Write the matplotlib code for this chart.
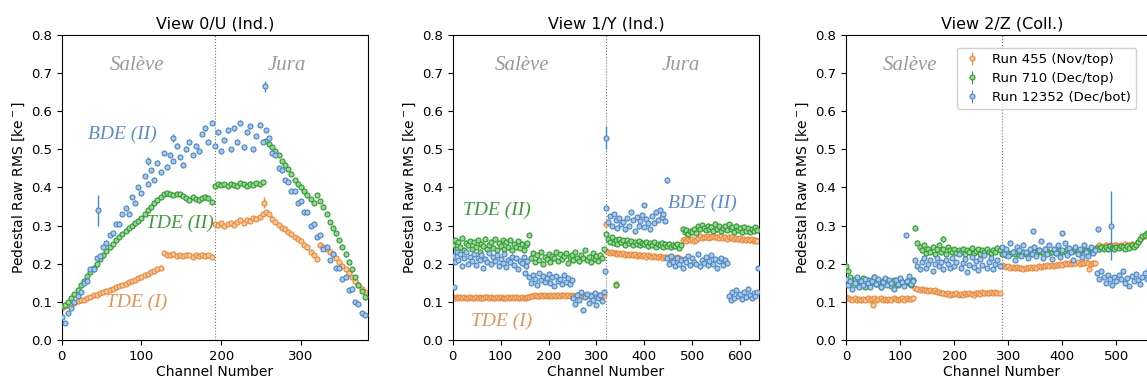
import numpy as np
import matplotlib
matplotlib.use("Agg")
import matplotlib.pyplot as plt

# ---------------- data ----------------
titles = ["View 0/U (Ind.)", "View 1/Y (Ind.)", "View 2/Z (Coll.)"]
run_labels = ["Run 455 (Nov/top)", "Run 710 (Dec/top)", "Run 12352 (Dec/bot)"]
n_channels = [384, 640, 576]
split_channel = [192, 320, 288]

# View 0/U : every 4th channel
v0_ch = list(range(0, 384, 4))
v0_orange = [0.083, 0.088, 0.092, 0.094, 0.098, 0.101, 0.104, 0.106, 0.110, 0.113, 0.117, 0.119,
             0.122, 0.126, 0.129, 0.132, 0.135, 0.138, 0.142, 0.144, 0.148, 0.152, 0.155, 0.158,
             0.163, 0.165, 0.170, 0.173, 0.178, 0.182, 0.186, 0.190,
             0.228, 0.224, 0.222, 0.225, 0.221, 0.223, 0.220, 0.224, 0.222, 0.219, 0.223, 0.221,
             0.224, 0.220, 0.222, 0.219,
             0.305, 0.302, 0.306, 0.298, 0.304, 0.308, 0.302, 0.310, 0.315, 0.308, 0.316, 0.312,
             0.320, 0.318, 0.322, 0.330,
             0.335, 0.330, 0.318, 0.310, 0.302, 0.295, 0.290, 0.283, 0.277, 0.270, 0.265, 0.260,
             0.250, 0.243, 0.232, 0.222, 0.212,
             0.250, 0.245, 0.240, 0.232, 0.225, 0.215, 0.205, 0.195, 0.185, 0.175, 0.165, 0.155,
             0.145, 0.135, 0.125]
v0_green = [0.088, 0.092, 0.100, 0.110, 0.120, 0.132, 0.143, 0.155, 0.167, 0.178, 0.190, 0.200,
            0.212, 0.222, 0.233, 0.243, 0.252, 0.262, 0.270, 0.278, 0.287, 0.293, 0.300, 0.306,
            0.312, 0.320, 0.330, 0.340, 0.350, 0.360, 0.368, 0.375,
            0.382, 0.385, 0.383, 0.380, 0.384, 0.382, 0.378, 0.372, 0.368, 0.374, 0.370, 0.366,
            0.372, 0.376, 0.372, 0.362,
            0.405, 0.410, 0.406, 0.408, 0.404, 0.410, 0.407, 0.405, 0.412, 0.408, 0.404, 0.410,
            0.406, 0.412, 0.408, 0.414,
            0.522, 0.515, 0.505, 0.495, 0.485, 0.470, 0.460, 0.448, 0.435, 0.420, 0.410, 0.400,
            0.390, 0.380, 0.370, 0.360,
            0.380, 0.365, 0.350, 0.330, 0.310, 0.295, 0.280, 0.262, 0.245, 0.225, 0.205, 0.185,
            0.165, 0.145, 0.128, 0.112]
v0_blue = [0.060, 0.045, 0.070, 0.085, 0.100, 0.115, 0.125, 0.150, 0.155, 0.185, 0.185, 0.215,
           0.220, 0.245, 0.255, 0.275, 0.280, 0.305, 0.305, 0.330,
           0.345, 0.330, 0.375, 0.360, 0.400, 0.385, 0.430, 0.410, 0.445, 0.420, 0.465, 0.440,
           0.490, 0.455, 0.485, 0.470, 0.510, 0.480, 0.460, 0.500, 0.520, 0.485, 0.510, 0.495,
           0.540, 0.555, 0.520, 0.570,
           0.510, 0.545, 0.495, 0.525, 0.550, 0.500, 0.555, 0.520, 0.570, 0.505, 0.545, 0.560,
           0.500, 0.535, 0.565, 0.520, 0.550,
           0.530, 0.490, 0.485, 0.450, 0.445, 0.420, 0.415, 0.390, 0.390, 0.360, 0.365, 0.335,
           0.335, 0.300, 0.305, 0.270, 0.275, 0.240, 0.245, 0.210, 0.225, 0.190, 0.190, 0.160,
           0.165, 0.130, 0.135, 0.100, 0.095, 0.070, 0.065]

# View 1/Y : every 4th channel
v1_ch = list(range(0, 640, 4))
v1_orange = [0.113, 0.111, 0.112, 0.110, 0.112, 0.111, 0.113, 0.110, 0.111, 0.112,
             0.110, 0.111, 0.113, 0.110, 0.112, 0.111, 0.110, 0.112, 0.113, 0.111,
             0.112, 0.110, 0.111, 0.113, 0.111, 0.112, 0.110, 0.109, 0.111, 0.112,
             0.110, 0.112, 0.111, 0.113, 0.110, 0.111, 0.112, 0.110, 0.111, 0.112,
             0.114, 0.116, 0.115, 0.117, 0.115, 0.116, 0.118, 0.115, 0.117, 0.116,
             0.115, 0.117, 0.116, 0.118, 0.115, 0.117, 0.116, 0.119, 0.117, 0.115,
             0.118, 0.116, 0.117,
             0.116, 0.115, 0.117, 0.116, 0.118, 0.116, 0.117, 0.118, 0.116, 0.117,
             0.115, 0.118, 0.116, 0.117, 0.118, 0.116, 0.117,
             0.234, 0.230, 0.228, 0.231, 0.227, 0.229, 0.226, 0.228, 0.225, 0.227,
             0.224, 0.226, 0.223, 0.225, 0.222, 0.226, 0.221, 0.224, 0.222, 0.220,
             0.223, 0.219, 0.222, 0.220, 0.218, 0.221, 0.219, 0.217, 0.220, 0.218,
             0.216, 0.219, 0.217, 0.215, 0.218, 0.216, 0.214, 0.217, 0.215, 0.213,
             0.262, 0.266, 0.259, 0.264, 0.261, 0.265, 0.260, 0.263, 0.268, 0.272,
             0.267, 0.271, 0.269, 0.273, 0.268, 0.270, 0.274, 0.269, 0.271, 0.267,
             0.272, 0.268, 0.270, 0.266, 0.271, 0.267, 0.269, 0.265, 0.268, 0.264,
             0.267, 0.263, 0.266, 0.262, 0.265, 0.261, 0.264, 0.260, 0.263, 0.259]
v1_green = [0.250, 0.262, 0.238, 0.258, 0.245, 0.268, 0.235, 0.255, 0.248, 0.260,
            0.240, 0.256, 0.244, 0.262, 0.232, 0.252, 0.246, 0.266, 0.238, 0.250,
            0.258, 0.242, 0.264, 0.236, 0.254, 0.247, 0.261, 0.239, 0.257, 0.243,
            0.263, 0.235, 0.251, 0.245, 0.259, 0.241, 0.253, 0.237, 0.249, 0.255,
            0.275, 0.215, 0.228, 0.205, 0.222, 0.210, 0.232, 0.200, 0.218, 0.212,
            0.226, 0.205, 0.220, 0.214, 0.230, 0.208, 0.225, 0.212, 0.220, 0.228,
            0.203, 0.217, 0.224, 0.209, 0.231, 0.214, 0.206, 0.222, 0.216, 0.235,
            0.210, 0.219, 0.204, 0.227, 0.213, 0.221, 0.207, 0.224, 0.215, 0.238,
            0.278, 0.266, 0.258, 0.270, 0.255, 0.263, 0.252, 0.265, 0.256, 0.261,
            0.250, 0.262, 0.254, 0.259, 0.249, 0.257, 0.252, 0.260, 0.248, 0.255,
            0.251, 0.258, 0.246, 0.254, 0.250, 0.256, 0.245, 0.252, 0.248, 0.255,
            0.244, 0.251, 0.247, 0.253, 0.243, 0.250, 0.246, 0.252, 0.242, 0.249,
            0.292, 0.282, 0.288, 0.279, 0.286, 0.284, 0.290, 0.281, 0.298, 0.290,
            0.302, 0.295, 0.288, 0.300, 0.292, 0.297, 0.286, 0.305, 0.290, 0.298,
            0.285, 0.294, 0.299, 0.288, 0.303, 0.291, 0.296, 0.284, 0.300, 0.289,
            0.295, 0.282, 0.297, 0.287, 0.293, 0.283, 0.291, 0.286, 0.296, 0.288]
v1_blue = [0.220, 0.205, 0.230, 0.210, 0.225, 0.195, 0.215, 0.232, 0.200, 0.218,
           0.207, 0.225, 0.198, 0.215, 0.210, 0.222, 0.190, 0.212, 0.205, 0.228,
           0.200, 0.217, 0.208, 0.223, 0.195, 0.213, 0.203, 0.226, 0.192, 0.211,
           0.204, 0.219, 0.196, 0.214, 0.186, 0.208, 0.201, 0.218, 0.193, 0.206,
           0.165, 0.150, 0.170, 0.160, 0.145, 0.175, 0.158, 0.168, 0.152, 0.162,
           0.172, 0.150, 0.164, 0.142, 0.168, 0.155, 0.160, 0.148, 0.171, 0.153,
           0.163, 0.147, 0.158,
           0.110, 0.095, 0.118, 0.105, 0.125, 0.080, 0.112, 0.120, 0.098, 0.115,
           0.104, 0.122, 0.092, 0.110, 0.118, 0.102, 0.125,
           0.345, 0.310, 0.325, 0.300, 0.330, 0.315, 0.295, 0.320, 0.305, 0.310,
           0.290, 0.320, 0.300, 0.335, 0.315, 0.285, 0.322, 0.298, 0.312, 0.328,
           0.296, 0.318, 0.306, 0.290, 0.325, 0.308, 0.335, 0.315, 0.340, 0.322,
           0.330, 0.312,
           0.215, 0.200, 0.220, 0.205, 0.195, 0.215, 0.200, 0.210, 0.190, 0.212,
           0.205, 0.220, 0.198, 0.215, 0.205, 0.200, 0.225, 0.193, 0.210, 0.202,
           0.218, 0.196, 0.208, 0.222, 0.200, 0.212, 0.188, 0.206, 0.215, 0.198,
           0.210, 0.203,
           0.115, 0.105, 0.125, 0.110, 0.130, 0.115, 0.120, 0.108, 0.125, 0.112,
           0.135, 0.118, 0.110, 0.122, 0.115, 0.126]

# View 2/Z : every 4th channel
v2_ch = list(range(0, 576, 4))
v2_orange = [0.112, 0.110, 0.108, 0.106, 0.109, 0.105, 0.107, 0.104, 0.108, 0.106,
             0.109, 0.105, 0.107, 0.110, 0.106, 0.108, 0.109, 0.105, 0.107, 0.104,
             0.108, 0.106, 0.109, 0.107, 0.105, 0.108, 0.110, 0.106, 0.109, 0.107,
             0.108, 0.110,
             0.136, 0.133, 0.131, 0.134, 0.130, 0.132, 0.129, 0.131, 0.128, 0.130,
             0.127, 0.126, 0.124, 0.122, 0.121, 0.123, 0.119, 0.121, 0.120, 0.122,
             0.118, 0.121, 0.119, 0.122, 0.120, 0.123, 0.121, 0.119, 0.122, 0.124,
             0.121, 0.125, 0.122, 0.124, 0.123, 0.126, 0.122, 0.125, 0.124, 0.123,
             0.196, 0.193, 0.191, 0.194, 0.190, 0.192, 0.189, 0.191, 0.188, 0.190,
             0.187, 0.190, 0.188, 0.191, 0.189, 0.192, 0.190, 0.193, 0.191, 0.195,
             0.193, 0.196, 0.194, 0.197, 0.195, 0.198, 0.196, 0.200, 0.198, 0.201,
             0.199, 0.202, 0.200, 0.203, 0.201, 0.204, 0.200, 0.203, 0.201, 0.204,
             0.202, 0.200, 0.203, 0.201,
             0.245, 0.248, 0.244, 0.247, 0.250, 0.246, 0.249, 0.245, 0.248, 0.250,
             0.246, 0.249, 0.247, 0.251, 0.248, 0.250, 0.252, 0.249, 0.253, 0.258,
             0.264, 0.270, 0.274, 0.277, 0.278, 0.280, 0.279, 0.281]
v2_green = [0.195, 0.180, 0.165, 0.150, 0.160, 0.145, 0.155, 0.150, 0.162, 0.140,
            0.158, 0.148, 0.155, 0.165, 0.146, 0.152, 0.138, 0.155, 0.160, 0.148,
            0.153, 0.142, 0.157, 0.150, 0.145, 0.160, 0.152, 0.148, 0.156, 0.150,
            0.145, 0.158,
            0.295, 0.255, 0.245, 0.235, 0.250, 0.228, 0.240, 0.232, 0.245, 0.225,
            0.238, 0.250, 0.230, 0.240, 0.226, 0.244, 0.235, 0.230, 0.238, 0.228,
            0.235, 0.232, 0.240, 0.226, 0.236, 0.230, 0.242, 0.228, 0.234, 0.238,
            0.225, 0.236, 0.230, 0.240, 0.232, 0.228, 0.237, 0.231, 0.242, 0.235,
            0.225, 0.230, 0.222, 0.228, 0.225, 0.232, 0.226, 0.230, 0.224, 0.228,
            0.232, 0.226, 0.230, 0.234, 0.228, 0.232, 0.226, 0.235, 0.230, 0.232,
            0.236, 0.234, 0.228, 0.231, 0.235, 0.229, 0.233, 0.237, 0.231, 0.234,
            0.238, 0.232, 0.236, 0.233, 0.239, 0.235, 0.232, 0.237, 0.240, 0.236,
            0.234, 0.239, 0.236, 0.238,
            0.242, 0.238, 0.245, 0.240, 0.244, 0.238, 0.246, 0.242, 0.240, 0.245,
            0.241, 0.247, 0.243, 0.239, 0.246, 0.242, 0.248, 0.244, 0.250, 0.256,
            0.264, 0.272, 0.276, 0.280, 0.284, 0.282, 0.286, 0.283]
v2_blue = [0.160, 0.145, 0.155, 0.135, 0.150, 0.165, 0.140, 0.155, 0.145, 0.160,
           0.150, 0.140, 0.155, 0.165, 0.148, 0.160, 0.138, 0.152, 0.162, 0.144,
           0.157, 0.149, 0.135, 0.158, 0.146, 0.163, 0.151, 0.142, 0.156, 0.168,
           0.148, 0.155,
           0.210, 0.195, 0.185, 0.205, 0.215, 0.190, 0.200, 0.210, 0.180, 0.200,
           0.215, 0.195, 0.205, 0.185, 0.210, 0.200, 0.190, 0.215, 0.195, 0.205,
           0.225, 0.188, 0.202, 0.212, 0.178, 0.198, 0.218, 0.192, 0.206, 0.184,
           0.212, 0.196, 0.222, 0.190, 0.204, 0.215, 0.186, 0.200, 0.210, 0.194,
           0.245, 0.225, 0.240, 0.220, 0.255, 0.230, 0.210, 0.245, 0.235, 0.220,
           0.250, 0.230, 0.215, 0.240, 0.225, 0.245, 0.220, 0.235, 0.260, 0.215,
           0.240, 0.225, 0.250, 0.212, 0.238, 0.228, 0.248, 0.218, 0.236, 0.255,
           0.222, 0.242, 0.230, 0.210, 0.245, 0.226, 0.238, 0.218, 0.250, 0.232,
           0.220, 0.244, 0.228, 0.236,
           0.175, 0.160, 0.180, 0.165, 0.150, 0.170, 0.160, 0.145, 0.165, 0.155,
           0.170, 0.160, 0.180, 0.150, 0.162, 0.142, 0.168, 0.155, 0.172, 0.158,
           0.148, 0.165, 0.175, 0.160, 0.185, 0.170, 0.195, 0.205]

# isolated points with larger error bars: (channel, value, error)
v0_orange_out = ([254], [0.36], [0.015])
v0_green_out = ([], [], [])
v0_blue_out = ([46, 255, 108, 140], [0.34, 0.665, 0.47, 0.53], [0.04, 0.015, 0.01, 0.01])
v1_orange_out = ([320, 340], [0.305, 0.148], [0.008, 0.006])
v1_green_out = ([341], [0.145], [0.006])
v1_blue_out = ([320, 447, 2, 318, 400, 638, 150], [0.53, 0.42, 0.14, 0.18, 0.355, 0.19, 0.175],
               [0.03, 0.008, 0.005, 0.006, 0.005, 0.005, 0.005])
v2_orange_out = ([50, 450], [0.092, 0.185], [0.005, 0.005])
v2_green_out = ([180], [0.265], [0.008])
v2_blue_out = ([110, 490, 345, 465, 400], [0.275, 0.30, 0.285, 0.29, 0.28],
               [0.006, 0.09, 0.006, 0.006, 0.006])

annotations = [
    [("Salève", 94, 0.72, "gray"), ("Jura", 282, 0.72, "gray"),
     ("BDE (II)", 76, 0.54, "blue"), ("TDE (II)", 148, 0.307, "green"), ("TDE (I)", 94, 0.10, "orange")],
    [("Salève", 145, 0.72, "gray"), ("Jura", 477, 0.72, "gray"),
     ("TDE (II)", 92, 0.339, "green"), ("TDE (I)", 102, 0.05, "orange"), ("BDE (II)", 521, 0.359, "blue")],
    [("Salève", 118, 0.72, "gray")],
]

# ---------------- style ----------------
col = {"orange": "#e8893a", "green": "#2e9a2e", "blue": "#4a86c2", "gray": "#9a9a9a"}
light = {"orange": "#f5c89e", "green": "#9ad49a", "blue": "#a9c8e8"}
txtcol = {"orange": "#e09458", "green": "#3e9a3e", "blue": "#5b8cc4", "gray": "#9a9a9a"}

fig = plt.figure(figsize=(11.47, 3.85), dpi=100)
W, H = 1147.0, 385.0
rects = [
    [61.7 / W, 45 / H, 306.3 / W, 305 / H],
    [452.7 / W, 45 / H, 306.6 / W, 305 / H],
    [846.0 / W, 45 / H, 311.6 / W, 305 / H],
]
chs = [v0_ch, v1_ch, v2_ch]
series = [
    [v0_orange, v0_green, v0_blue],
    [v1_orange, v1_green, v1_blue],
    [v2_orange, v2_green, v2_blue],
]
outs = [
    [v0_orange_out, v0_green_out, v0_blue_out],
    [v1_orange_out, v1_green_out, v1_blue_out],
    [v2_orange_out, v2_green_out, v2_blue_out],
]
keys = ["orange", "green", "blue"]
serif = ["Liberation Serif", "DejaVu Serif"]

for i in range(3):
    ax = fig.add_axes(rects[i])
    handles = []
    for k, key in enumerate(keys):
        y = series[i][k]
        h = ax.errorbar(chs[i], y, yerr=0.006, fmt="o", ms=3.6, color=col[key],
                        mfc=light[key], mec=col[key], mew=0.8, elinewidth=0.8,
                        capsize=0, label=run_labels[k], zorder=2 + k)
        handles.append(h)
        oc, ov, oe = outs[i][k]
        if len(oc):
            ax.errorbar(oc, ov, yerr=oe, fmt="o", ms=3.6, color=col[key],
                        mfc=light[key], mec=col[key], mew=0.8, elinewidth=1.0,
                        capsize=0, zorder=2 + k)
    ax.axvline(split_channel[i], color="#777777", ls=":", lw=0.8, zorder=1)
    ax.set_xlim(0, n_channels[i])
    ax.set_ylim(0, 0.8)
    ax.set_yticks(np.arange(0, 0.81, 0.1))
    ax.set_yticklabels([f"{t:.1f}" for t in np.arange(0, 0.81, 0.1)])
    ax.set_xticks(range(0, n_channels[i], 100))
    ax.tick_params(labelsize=9.5)
    ax.set_xlabel("Channel Number", fontsize=10, labelpad=2)
    ax.set_ylabel("Pedestal Raw RMS [ke$^-$]", fontsize=10, labelpad=3)
    ax.set_title(titles[i], fontsize=11.5, pad=5)
    for (t, x, y, c) in annotations[i]:
        fs = 15 if c == "gray" else 14
        ax.text(x, y, t, color=txtcol[c], family=serif, style="italic", fontsize=fs,
                ha="center", va="center", zorder=10)
    if i == 2:
        ax.legend(handles=handles, loc="upper right", fontsize=9.5,
                  bbox_to_anchor=(1143 / W, 344 / H), bbox_transform=fig.transFigure,
                  framealpha=0.9, handlelength=1.5, borderpad=0.4, labelspacing=0.45)

fig.savefig("out.png", dpi=100)
